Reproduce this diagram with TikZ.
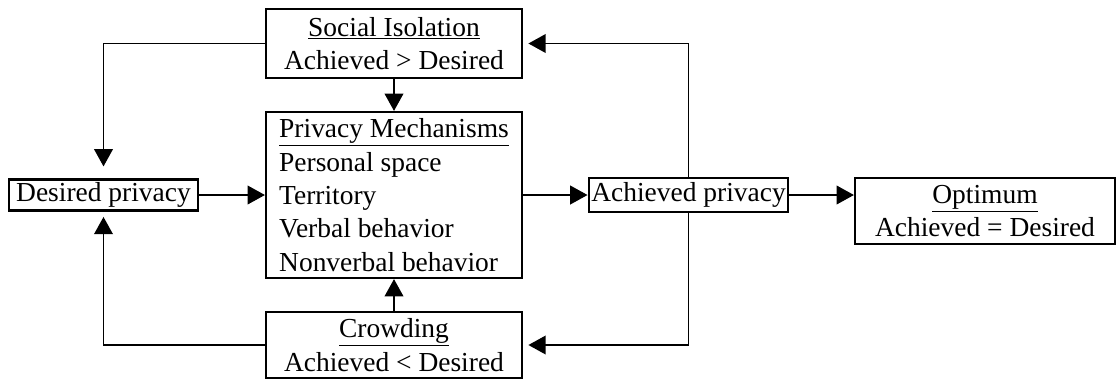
\documentclass[tikz,border=0pt]{standalone}
\usepackage{fontspec}
\setmainfont{Liberation Serif}
\usetikzlibrary{arrows.meta}
\begin{document}
\begin{tikzpicture}[
    x=0.75pt, y=-0.75pt,
    state/.style={draw, line width=1.6pt, inner xsep=2pt, inner ysep=1pt,
                  font=\fontsize{20.6}{25}\selectfont, align=center},
    mechbox/.style={state, align=left},
    flow/.style={-{Triangle[width=14pt,length=13pt]}, line width=1.3pt},
  ]
    \useasboundingbox (0,0) rectangle (1117,380);
    \node[state, minimum width=192pt, minimum height=51.75pt] (social) at (394,43.5)
      {\underline{Social Isolation}\\ Achieved > Desired};
    \node[mechbox, minimum width=192pt, minimum height=124.5pt] (mech) at (394,195)
      {\underline{Privacy Mechanisms}\\Personal space\\Territory\\Verbal behavior\\Nonverbal behavior};
    \node[state, minimum width=192pt, minimum height=49.5pt] (crowd) at (394,345)
      {\underline{Crowding}\\ Achieved < Desired};
    \node[state, minimum width=141.75pt, minimum height=23.25pt] (desired) at (103.5,195)
      {Desired privacy};
    \node[state, minimum width=149.25pt, minimum height=25.5pt] (achieved) at (688.5,195)
      {Achieved privacy};
    \node[state, minimum width=195pt, minimum height=49.5pt] (optimum) at (985,211)
      {\underline{Optimum}\\ Achieved = Desired};

    \draw[flow, shorten >=9pt] (social.west) -| (desired.north);
    \draw[flow, shorten >=4pt] (crowd.west) -| (desired.south);
    \draw[flow] (social.south) -- (mech.north);
    \draw[flow] (crowd.north) -- (mech.south);
    \draw[flow] (desired.east) -- (mech.west);
    \draw[flow] (mech.east) -- (achieved.west);
    \draw[flow, shorten >=4pt] (achieved.north) |- (social.east);
    \draw[flow, shorten >=4pt] (achieved.south) |- (crowd.east);
    \draw[flow] (achieved.east) -- (achieved.east -| optimum.west);
  \end{tikzpicture}
\end{document}
